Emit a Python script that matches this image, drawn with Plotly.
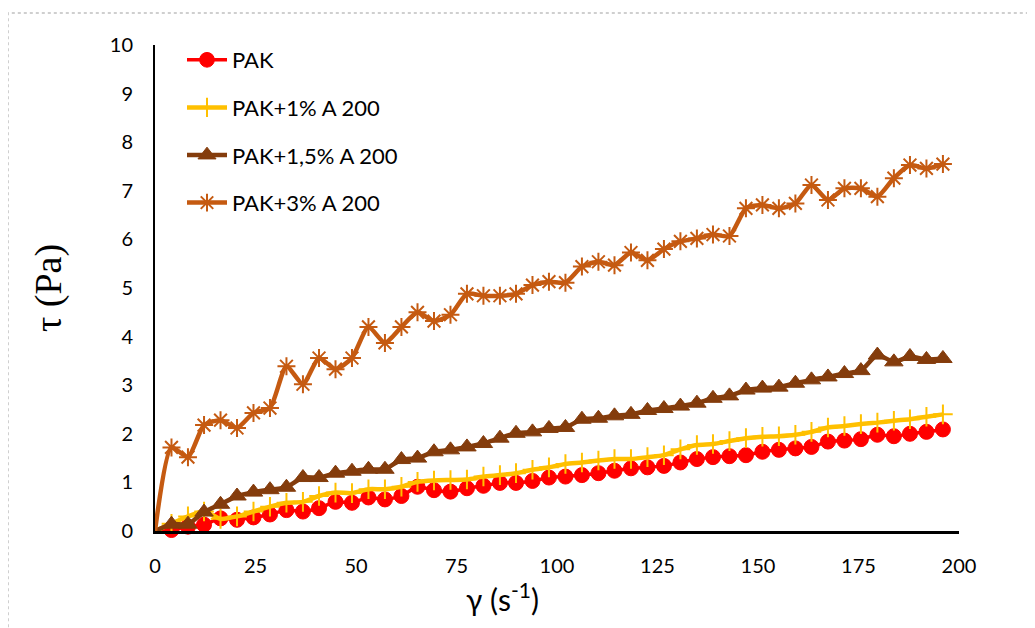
import plotly.graph_objects as go

# Shear rate values (s^-1)
shear_rate = [0, 4.1, 8.2, 12.2, 16.3, 20.4, 24.5, 28.6, 32.7, 36.8, 40.8, 44.9, 49.0,
              53.1, 57.2, 61.3, 65.3, 69.4, 73.5, 77.6, 81.7, 85.8, 89.8, 93.9, 98.0,
              102.1, 106.2, 110.3, 114.3, 118.4, 122.5, 126.6, 130.7, 134.8, 138.8,
              142.9, 147.0, 151.1, 155.2, 159.3, 163.3, 167.4, 171.5, 175.6, 179.7,
              183.8, 187.8, 191.9, 196.0]

# Shear stress (Pa)
pak = [0, 0.02, 0.09, 0.13, 0.26, 0.23, 0.28, 0.34, 0.43, 0.40, 0.47, 0.60, 0.58,
       0.69, 0.65, 0.72, 0.91, 0.84, 0.81, 0.88, 0.93, 0.99, 0.99, 1.03, 1.10,
       1.12, 1.15, 1.19, 1.24, 1.29, 1.31, 1.34, 1.41, 1.48, 1.52, 1.54, 1.56,
       1.63, 1.67, 1.70, 1.73, 1.84, 1.86, 1.89, 1.98, 1.95, 2.00, 2.04, 2.09]

pak_1 = [0, 0.15, 0.30, 0.40, 0.25, 0.30, 0.40, 0.50, 0.58, 0.60, 0.72, 0.79, 0.78,
         0.86, 0.86, 0.91, 1.01, 1.04, 1.05, 1.06, 1.12, 1.15, 1.19, 1.26, 1.31,
         1.38, 1.41, 1.45, 1.48, 1.48, 1.52, 1.56, 1.68, 1.77, 1.79, 1.85, 1.91,
         1.94, 1.95, 1.98, 2.04, 2.13, 2.16, 2.20, 2.23, 2.27, 2.30, 2.35, 2.40]

pak_15 = [0, 0.14, 0.14, 0.39, 0.55, 0.72, 0.80, 0.85, 0.90, 1.10, 1.10, 1.19, 1.23,
          1.27, 1.27, 1.47, 1.50, 1.63, 1.67, 1.73, 1.80, 1.91, 2.01, 2.04, 2.11,
          2.13, 2.30, 2.32, 2.37, 2.40, 2.48, 2.52, 2.57, 2.63, 2.73, 2.78, 2.90,
          2.94, 2.96, 3.04, 3.11, 3.17, 3.24, 3.30, 3.62, 3.48, 3.59, 3.53, 3.55]

pak_3 = [0, 1.72, 1.52, 2.18, 2.28, 2.12, 2.43, 2.53, 3.39, 3.02, 3.56, 3.33, 3.56,
         4.20, 3.87, 4.20, 4.50, 4.32, 4.45, 4.88, 4.84, 4.84, 4.88, 5.06, 5.13,
         5.11, 5.44, 5.54, 5.47, 5.73, 5.57, 5.80, 5.96, 6.02, 6.10, 6.07, 6.64,
         6.71, 6.64, 6.74, 7.12, 6.81, 7.05, 7.05, 6.88, 7.26, 7.53, 7.46, 7.55]

names = ["PAK", "PAK+1% A 200", "PAK+1,5% A 200", "PAK+3% A 200"]
series = [pak, pak_1, pak_15, pak_3]
colors = ["#FF0000", "#FFC000", "#843C0C", "#C55A11"]
symbols = ["circle", "cross-thin-open", "triangle-up", "asterisk-open"]
msizes = [15, 14, 16, 15]
lwidths = [3.5, 4.5, 4.5, 4.5]

# page offset compensation (browser body margin)
OFF = 8
W, H = 1035 - OFF, 628 - OFF
PL, PR, PT, PB = 155, 959, 45, 531  # target plot area in page pixels

fig = go.Figure()
for i, (nm, ys, c, sym, ms, lw) in enumerate(zip(names, series, colors, symbols, msizes, lwidths)):
    sizes = [0] + [ms] * (len(ys) - 1)
    marker = dict(symbol=sym, size=sizes, color=c, opacity=1)
    if "open" in sym:
        marker["line"] = dict(color=c, width=2)
    else:
        marker["line"] = dict(color=c, width=1)
    fig.add_trace(go.Scatter(
        x=shear_rate, y=ys, name=nm, mode="lines+markers",
        line=dict(color=c, width=lw, shape="spline", smoothing=0.6),
        marker=marker, cliponaxis=False, legendgroup=f"g{i}",
    ))

tick_font = dict(family="Lato, Open Sans, sans-serif", size=20, color="#000000")
pw = PR - PL
ph = PB - PT

fig.update_layout(
    width=W, height=H,
    margin=dict(l=PL - OFF, r=W - (PR - OFF), t=PT - OFF, b=H - (PB - OFF)),
    plot_bgcolor="white", paper_bgcolor="white",
    showlegend=True,
    legend=dict(x=(182 - PL) / pw, y=(PB - 39) / ph, xanchor="left", yanchor="top",
                font=dict(family="Lato, Open Sans, sans-serif", size=22, color="#000000"),
                bgcolor="rgba(0,0,0,0)", tracegroupgap=16, traceorder="grouped",
                itemwidth=40),
    xaxis=dict(range=[0, 200], tickvals=[0, 25, 50, 75, 100, 125, 150, 175, 200],
               showgrid=False, zeroline=False, showline=True, linecolor="#000000",
               linewidth=2.5, ticks="", ticklabelstandoff=15, tickfont=tick_font),
    yaxis=dict(range=[0, 10], tickvals=list(range(0, 11)),
               showgrid=False, zeroline=False, showline=True, linecolor="#000000",
               linewidth=2, ticks="", ticklabelstandoff=16, tickfont=tick_font),
    shapes=[dict(type="rect", xref="paper", yref="paper",
                 x0=(8 - PL) / pw, x1=1.3, y0=-0.4, y1=(PB - 13) / ph,
                 line=dict(color="#CFCFCF", width=2, dash="dot"), layer="below")],
    annotations=[
        dict(text="γ (s<sup>-1</sup>)", xref="paper", yref="paper",
             x=(502 - PL) / pw, y=(PB - 597) / ph, xanchor="center", yanchor="middle",
             showarrow=False, font=dict(family="Lato, Open Sans, sans-serif", size=30, color="#000000")),
        dict(text="τ (Pa)", xref="paper", yref="paper",
             x=(48 - PL) / pw, y=0.5, xanchor="center", yanchor="middle", textangle=-90,
             showarrow=False, font=dict(family="Liberation Serif, Times New Roman, serif", size=38, color="#000000")),
    ],
)

fig.write_html("out.html")
